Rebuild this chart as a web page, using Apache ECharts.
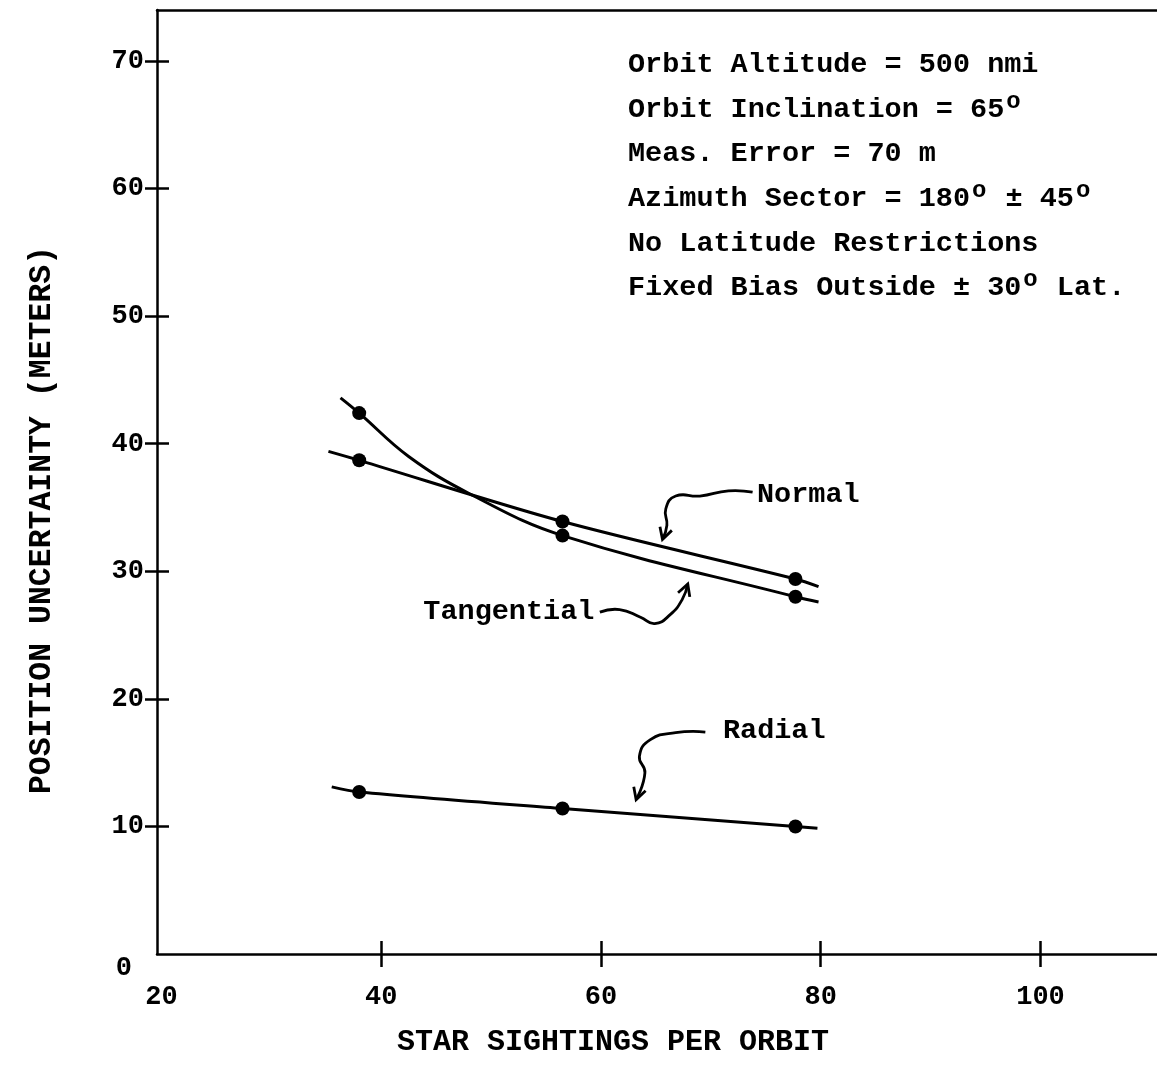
<!DOCTYPE html>
<html>
<head>
<meta charset="utf-8">
<script src="https://cdn.jsdelivr.net/npm/echarts@6/dist/echarts.min.js"></script>
<style>
html,body{margin:0;padding:0;background:#fff;}
#chart{width:1157px;height:1072px;}
</style>
</head>
<body>
<div id="chart"></div>
<script>
// ---- axis ticks ----
const xTickValues = [20, 40, 60, 80, 100];
const xTickMarks = [40, 60, 80, 100];
const yTickValues = [0, 10, 20, 30, 40, 50, 60, 70];
const yTickMarks = [10, 20, 30, 40, 50, 60, 70];

// ---- data points (star sightings per orbit vs. uncertainty, m) ----
const sightings = [38, 56.5, 77.7];
const normalVals = [38.7, 33.9, 29.4];
const tangentialVals = [42.4, 32.8, 28.0];
const radialVals = [12.7, 11.4, 10.0];

// ---- hand-drawn fitted curves ----
const normalCurveX = [35.2, 38, 56.5, 77.7, 79.8];
const normalCurveY = [39.4, 38.7, 33.9, 29.4, 28.8];
const tangentialCurveX = [36.3, 38, 42.5, 48, 56.5, 77.7, 79.8];
const tangentialCurveY = [43.6, 42.4, 39.0, 36.1, 32.8, 28.0, 27.6];
const radialCurveX = [35.5, 38, 56.5, 77.7, 79.7];
const radialCurveY = [13.1, 12.7, 11.4, 10.0, 9.85];

// ---- curve labels and their callout strokes (data coordinates) ----
const labelNames = ['Normal', 'Tangential', 'Radial'];
const labelAnchors = [[74.2, 36.0], [59.4, 26.8], [71.1, 17.5]];
const labelAligns = ['left', 'right', 'left'];
const normalCallout = [[73.8, 36.2], [71.6, 36.3], [69.0, 35.9], [66.8, 35.9], [65.9, 34.9], [66.0, 33.6], [65.6, 32.5]];
const tangentialCallout = [[59.9, 26.8], [61.7, 27.0], [63.6, 26.4], [64.9, 25.9], [66.3, 26.6], [67.4, 27.8], [67.9, 29.0]];
const radialCallout = [[69.5, 17.4], [66.8, 17.35], [64.5, 16.8], [63.5, 15.5], [64.0, 14.2], [63.2, 12.1]];

// ---- text ----
const xTitle = 'STAR SIGHTINGS PER ORBIT';
const yTitle = 'POSITION UNCERTAINTY (METERS)';
const infoLines = [
  '{t|Orbit Altitude = 500 nmi}',
  '{t|Orbit Inclination = 65}{s|o}',
  '{t|Meas. Error = 70 m}',
  '{t|Azimuth Sector = 180}{s|o}{t| ± 45}{s|o}',
  '{t|No Latitude Restrictions}',
  '{t|Fixed Bias Outside ± 30}{s|o}{t| Lat.}'
];

const FONT = '"Liberation Mono", "Courier New", monospace';
const zip = (xs, ys) => xs.map((x, i) => [x, ys[i]]);

const chart = echarts.init(document.getElementById('chart'), null, {renderer: 'canvas'});

const axisLineStyle = {color: '#000', width: 2.5};
const labelStyle = {color: '#000', fontFamily: FONT, fontSize: 27, fontWeight: 'bold'};
const X_MIN = 19.6, X_MAX = 110.6;

const option = {
  animation: false,
  backgroundColor: '#fff',
  grid: {left: 157, top: 10, right: 0, bottom: 118},
  xAxis: [
    {
      type: 'value', min: X_MIN, max: X_MAX, position: 'bottom',
      axisLine: {show: true, onZero: false, lineStyle: axisLineStyle},
      axisTick: {show: true, inside: false, length: 13, customValues: xTickMarks, lineStyle: axisLineStyle},
      axisLabel: Object.assign({customValues: xTickValues, margin: 30}, labelStyle),
      splitLine: {show: false}
    },
    {
      type: 'value', min: X_MIN, max: X_MAX, position: 'bottom',
      axisLine: {show: false},
      axisTick: {show: true, inside: true, length: 13, customValues: xTickMarks, lineStyle: axisLineStyle},
      axisLabel: {show: false},
      splitLine: {show: false}
    },
    {
      type: 'value', min: X_MIN, max: X_MAX, position: 'top',
      axisLine: {show: true, onZero: false, lineStyle: axisLineStyle},
      axisTick: {show: false},
      axisLabel: {show: false},
      splitLine: {show: false}
    }
  ],
  yAxis: [
    {
      type: 'value', min: 0, max: 74, interval: 10, position: 'left',
      axisLine: {show: true, onZero: false, lineStyle: axisLineStyle},
      axisTick: {show: true, inside: false, length: 12, customValues: yTickMarks, lineStyle: axisLineStyle},
      axisLabel: Object.assign({
        customValues: yTickValues, margin: 13,
        formatter: v => v === 0 ? '{z|0}' : String(v),
        rich: {z: Object.assign({padding: [28, 12, 0, 0]}, labelStyle)}
      }, labelStyle),
      splitLine: {show: false}
    },
    {
      type: 'value', min: 0, max: 74, interval: 10, position: 'left',
      axisLine: {show: false},
      axisTick: {show: true, inside: true, length: 12, customValues: yTickMarks, lineStyle: axisLineStyle},
      axisLabel: {show: false},
      splitLine: {show: false}
    }
  ],
  series: [
    {type: 'line', name: 'Normal curve', data: zip(normalCurveX, normalCurveY), smooth: 0.3, showSymbol: false, symbol: 'none', lineStyle: {color: '#000', width: 3}},
    {type: 'line', name: 'Tangential curve', data: zip(tangentialCurveX, tangentialCurveY), smooth: 0.4, showSymbol: false, symbol: 'none', lineStyle: {color: '#000', width: 3}},
    {type: 'line', name: 'Radial curve', data: zip(radialCurveX, radialCurveY), smooth: 0.3, showSymbol: false, symbol: 'none', lineStyle: {color: '#000', width: 3}},
    {type: 'scatter', name: 'Normal', data: zip(sightings, normalVals), symbol: 'circle', symbolSize: 14, itemStyle: {color: '#000', opacity: 1}},
    {type: 'scatter', name: 'Tangential', data: zip(sightings, tangentialVals), symbol: 'circle', symbolSize: 14, itemStyle: {color: '#000', opacity: 1}},
    {type: 'scatter', name: 'Radial', data: zip(sightings, radialVals), symbol: 'circle', symbolSize: 14, itemStyle: {color: '#000', opacity: 1}}
  ]
};
chart.setOption(option);

// ---- annotations positioned through the chart's own coordinate system ----
const toPx = p => chart.convertToPixel({gridIndex: 0}, p);
const graphics = [];

function callout(points) {
  const px = points.map(toPx);
  graphics.push({
    type: 'polyline', silent: true,
    shape: {points: px, smooth: 0.5},
    style: {stroke: '#000', lineWidth: 2.8, fill: null}
  });
  const tip = px[px.length - 1], prev = px[px.length - 2];
  const ang = Math.atan2(tip[1] - prev[1], tip[0] - prev[0]);
  const L = 13, spread = 0.5;
  const a1 = [tip[0] - L * Math.cos(ang - spread), tip[1] - L * Math.sin(ang - spread)];
  const a2 = [tip[0] - L * Math.cos(ang + spread), tip[1] - L * Math.sin(ang + spread)];
  graphics.push({
    type: 'polyline', silent: true,
    shape: {points: [a1, tip, a2]},
    style: {stroke: '#000', lineWidth: 2.8, fill: null}
  });
}
callout(normalCallout);
callout(tangentialCallout);
callout(radialCallout);

labelNames.forEach((name, i) => {
  const p = toPx(labelAnchors[i]);
  graphics.push({
    type: 'text', silent: true, x: p[0], y: p[1],
    style: {text: name, fill: '#000', fontFamily: FONT, fontSize: 28.5, fontWeight: 'bold',
            align: labelAligns[i], verticalAlign: 'middle'}
  });
});

// info block
infoLines.forEach((line, i) => {
  graphics.push({
    type: 'text', silent: true, x: 628, y: 65 + i * 44.6,
    style: {
      text: line, fill: '#000', align: 'left', verticalAlign: 'middle',
      rich: {
        t: {fontFamily: FONT, fontSize: 28.5, fontWeight: 'bold', fill: '#000', lineHeight: 40, verticalAlign: 'middle'},
        s: {fontFamily: FONT, fontSize: 24, fontWeight: 'bold', fill: '#000', lineHeight: 14, verticalAlign: 'top', padding: [0, 2, 0, 2]}
      }
    }
  });
});

// axis titles
graphics.push({
  type: 'text', silent: true, x: 613, y: 1042,
  style: {text: xTitle, fill: '#000', fontFamily: FONT, fontSize: 30, fontWeight: 'bold', align: 'center', verticalAlign: 'middle'}
});
graphics.push({
  type: 'text', silent: true, x: 42, y: 520, rotation: Math.PI / 2,
  style: {text: yTitle, fill: '#000', fontFamily: FONT, fontSize: 31.5, fontWeight: 'bold', align: 'center', verticalAlign: 'middle'}
});

chart.setOption({graphic: graphics});
</script>
</body>
</html>
